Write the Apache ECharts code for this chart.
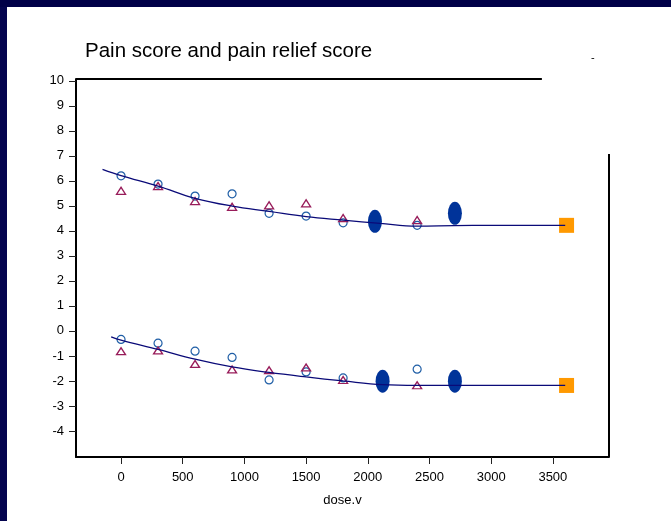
<!DOCTYPE html>
<html>
<head>
<meta charset="utf-8">
<script src="https://cdn.jsdelivr.net/npm/echarts@6/dist/echarts.min.js"></script>
<style>
  html, body { margin: 0; padding: 0; background: #00003f; }
  #slide { position: absolute; left: 0; top: 0; width: 671px; height: 521px; background: #000048; }
  #leftband { position: absolute; left: 0; top: 7px; width: 7px; height: 514px; background: #04044f; }
  #page { position: absolute; left: 7px; top: 7px; width: 664px; height: 514px; background: #ffffff; }
  #chart { position: absolute; left: 0; top: 0; width: 671px; height: 521px; }
</style>
</head>
<body>
<div id="slide"></div>
<div id="leftband"></div>
<div id="page"></div>
<div id="chart"></div>
<script>
// Dose levels and observed scores
const doses = [0, 300, 600, 900, 1200, 1500, 1800, 2400];
const painCircle = [6.20, 5.87, 5.39, 5.48, 4.70, 4.59, 4.32, 4.22];
const painTriangle = [5.60, 5.79, 5.19, 4.96, 5.02, 5.10, 4.51, 4.43];
const reliefCircle = [-0.34, -0.49, -0.81, -1.06, -1.96, -1.64, -1.88, -1.53];
const reliefTriangle = [-0.81, -0.78, -1.32, -1.54, -1.57, -1.46, -1.96, -2.17];

// Smoothed fits
const fitDoses = [-150, 0, 300, 600, 900, 1200, 1500, 1800, 2100, 2400, 2700, 3000, 3300, 3600];
const painFit = [6.46, 6.21, 5.79, 5.30, 4.99, 4.78, 4.57, 4.43, 4.30, 4.19, 4.21, 4.22, 4.22, 4.22];
const reliefFitDoses = [-80, 0, 300, 600, 900, 1200, 1500, 1800, 2120, 2400, 2700, 3000, 3300, 3600];
const reliefFit = [-0.24, -0.37, -0.74, -1.13, -1.44, -1.66, -1.84, -2.00, -2.15, -2.18, -2.18, -2.18, -2.18, -2.18];

// Highlighted estimates (filled ellipses) and reference values (squares)
const painEllipseX = [2058, 2706];
const painEllipseY = [4.38, 4.70];
const reliefEllipseX = [2120, 2706];
const reliefEllipseY = [-2.01, -2.01];
const refDose = [3611];
const painRef = [4.22];
const reliefRef = [-2.18];

// Axis ticks
const xTicks = [0, 500, 1000, 1500, 2000, 2500, 3000, 3500];
const yTicks = [-4, -3, -2, -1, 0, 1, 2, 3, 4, 5, 6, 7, 8, 9, 10];

const xMin = -365, xMax = 3955, yMin = -5.04, yMax = 10.07;

const pairs = (xs, ys) => xs.map((x, i) => [x, ys[i]]);
const FONT = '"Liberation Sans", Arial, sans-serif';

const chart = echarts.init(document.getElementById('chart'), null, { renderer: 'canvas' });

const frame = { color: '#000', width: 2 };
const openMark = (c, w) => ({ color: 'rgba(255,255,255,0)', borderColor: c, borderWidth: w, opacity: 1 });

chart.setOption({
  backgroundColor: 'transparent',
  animation: false,
  title: {
    text: 'Pain score and pain relief score',
    left: 80, top: 36,
    textStyle: { fontFamily: FONT, fontSize: 20.5, fontWeight: 'normal', color: '#000' }
  },
  graphic: [
    { type: 'text', left: 591, top: 52, style: { text: '-', fontSize: 11, fill: '#000', fontFamily: FONT } }
  ],
  grid: { left: 76, top: 79, right: 62, bottom: 64, containLabel: false },
  xAxis: {
    type: 'value', min: xMin, max: xMax,
    name: 'dose.v', nameLocation: 'middle', nameGap: 37,
    nameTextStyle: { fontFamily: FONT, fontSize: 13, color: '#000' },
    axisLine: { show: true, onZero: false, lineStyle: frame },
    axisTick: { show: true, inside: false, length: 7, customValues: xTicks, lineStyle: { color: '#222', width: 1 } },
    axisLabel: { margin: 14, customValues: xTicks, formatter: v => String(v), fontFamily: FONT, fontSize: 13, color: '#000' },
    splitLine: { show: false }
  },
  yAxis: {
    type: 'value', min: yMin, max: yMax,
    axisLine: { show: true, onZero: false, lineStyle: frame },
    axisTick: { show: true, inside: false, length: 7, customValues: yTicks, lineStyle: { color: '#222', width: 1 } },
    axisLabel: { margin: 12, customValues: yTicks, formatter: v => String(v), fontFamily: FONT, fontSize: 13, color: '#000' },
    splitLine: { show: false }
  },
  series: [
    {
      // partial box edges on the top and right
      type: 'line', data: [], silent: true,
      markLine: {
        silent: true, symbol: 'none', label: { show: false },
        lineStyle: { color: '#000', width: 2, type: 'solid' },
        data: [
          [{ coord: [xMin, yMax] }, { coord: [3411, yMax] }],
          [{ coord: [xMax, 7.07] }, { coord: [xMax, yMin] }]
        ]
      }
    },
    {
      type: 'scatter', data: pairs(painEllipseX, painEllipseY), symbol: 'circle', symbolSize: [14, 23],
      itemStyle: { color: '#003399', opacity: 1 }, z: 2
    },
    {
      type: 'scatter', data: pairs(reliefEllipseX, reliefEllipseY), symbol: 'circle', symbolSize: [14, 23],
      itemStyle: { color: '#003399', opacity: 1 }, z: 2
    },
    {
      type: 'scatter', data: pairs(refDose, painRef), symbol: 'rect', symbolSize: 15,
      itemStyle: { color: '#ff9900', opacity: 1 }, z: 2
    },
    {
      type: 'scatter', data: pairs(refDose, reliefRef), symbol: 'rect', symbolSize: 15,
      itemStyle: { color: '#ff9900', opacity: 1 }, z: 2
    },
    {
      type: 'scatter', data: pairs(doses, painCircle), symbol: 'circle', symbolSize: 8,
      itemStyle: openMark('#1f5ea6', 1.2), z: 3
    },
    {
      type: 'scatter', data: pairs(doses, reliefCircle), symbol: 'circle', symbolSize: 8,
      itemStyle: openMark('#1f5ea6', 1.2), z: 3
    },
    {
      type: 'scatter', data: pairs(doses, painTriangle), symbol: 'triangle', symbolSize: [9, 7],
      itemStyle: openMark('#981c5a', 1.3), z: 3
    },
    {
      type: 'scatter', data: pairs(doses, reliefTriangle), symbol: 'triangle', symbolSize: [9, 7],
      itemStyle: openMark('#981c5a', 1.3), z: 3
    },
    {
      type: 'line', data: pairs(fitDoses, painFit), smooth: 0.4, showSymbol: false, symbol: 'none',
      lineStyle: { color: '#0a0a78', width: 1.3 }, z: 4
    },
    {
      type: 'line', data: pairs(reliefFitDoses, reliefFit), smooth: 0.4, showSymbol: false, symbol: 'none',
      lineStyle: { color: '#0a0a78', width: 1.3 }, z: 4
    }
  ]
});
</script>
</body>
</html>
